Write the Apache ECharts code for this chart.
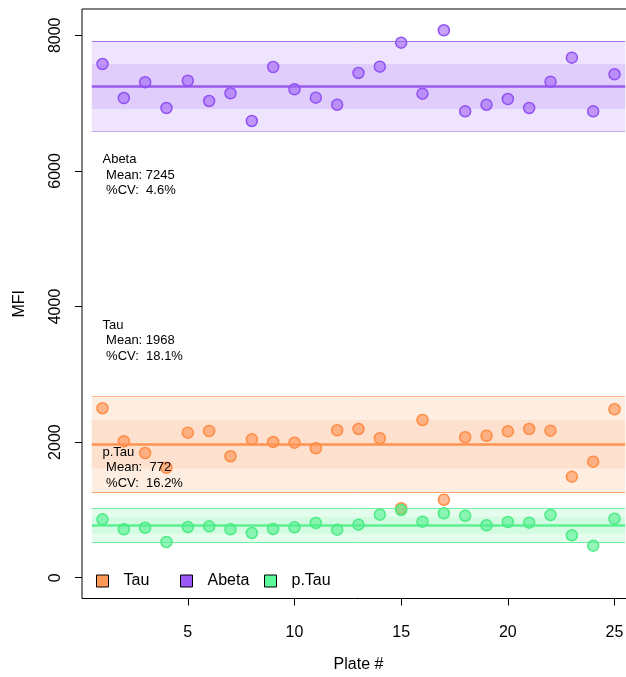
<!DOCTYPE html>
<html><head><meta charset="utf-8">
<script src="https://cdn.jsdelivr.net/npm/echarts@6/dist/echarts.min.js"></script>
<style>html,body{margin:0;padding:0;background:#fff}#c{width:626px;height:677px}</style>
</head><body><div id="c"></div><script>
// ---- data ----
const plates = [1,2,3,4,5,6,7,8,9,10,11,12,13,14,15,16,17,18,19,20,21,22,23,24,25];
const tauValues   = [2499,2012,1839,1622,2139,2164,1791,2041,2001,1991,1909,2174,2193,2056,1024,2326,1150,2071,2094,2159,2193,2168,1490,1711,2484];
const abetaValues = [7577,7075,7307,6928,7330,7031,7145,6736,7532,7204,7080,6976,7444,7537,7891,7139,8074,6879,6976,7060,6928,7316,7670,6879,7425];
const ptauValues  = [861,714,737,527,748,758,714,659,718,743,807,708,782,929,999,826,950,914,773,822,811,925,625,472,870];
const groupNames = ['Tau','Abeta','p.Tau'];
const groupMeans = [1968, 7245, 772];
const groupCV    = [18.1, 4.6, 16.2];
const annotY     = [3496, 5940, 1622];   // data-y of middle annotation line
const xTicks = [5,10,15,20,25];
const yTicks = [0,2000,4000,6000,8000];

// ---- styles ----
const FONT = 'Liberation Sans, Arial, sans-serif';
const styles = [
  {fill:'rgba(255,150,90,0.65)', border:'#FF8C45', legend:'#FF9955', mean:'#FF934F', outer:'#FEEEE2', inner:'#FDE0CD', edgeTop:'#FFB487', edgeBot:'#FFA56C'},
  {fill:'rgba(160,100,245,0.6)', border:'#9152F2', legend:'#9B59F5', mean:'#9A5AEE', outer:'#EFE4FE', inner:'#E0CDFC', edgeTop:'#A373F2', edgeBot:'#C5A6F8'},
  {fill:'rgba(80,240,140,0.6)', border:'#4BEB84', legend:'#5CF89A', mean:'#5BF091', outer:'#E4FDED', inner:'#D2FBE1', edgeTop:'#72F0A2', edgeBot:'#72F0A2'}
];
const valuesByGroup = [tauValues, abetaValues, ptauValues];

const series = [];
groupNames.forEach((g, i) => {
  const m = groupMeans[i], sd = m * groupCV[i] / 100, st = styles[i];
  series.push({
    type: 'line', name: g + ' band', data: [], silent: true, z: 1,
    markArea: { silent: true, data: [
      [{xAxis:0.5, yAxis:m-2*sd, itemStyle:{color:st.outer}}, {xAxis:25.5, yAxis:m+2*sd}],
      [{xAxis:0.5, yAxis:m-sd, itemStyle:{color:st.inner}}, {xAxis:25.5, yAxis:m+sd}]
    ]},
    markLine: { silent: true, symbol: 'none', label:{show:false}, data: [
      [{coord:[0.5,m+2*sd], lineStyle:{color:st.edgeTop, width:1, type:'solid'}}, {coord:[25.5,m+2*sd]}],
      [{coord:[0.5,m-2*sd], lineStyle:{color:st.edgeBot, width:1, type:'solid'}}, {coord:[25.5,m-2*sd]}],
      [{coord:[0.5,m], lineStyle:{color:st.mean, width:2.5, type:'solid'}}, {coord:[25.5,m]}]
    ]}
  });
});
groupNames.forEach((g, i) => {
  const st = styles[i];
  series.push({
    type: 'scatter', name: g, z: 5,
    data: plates.map((p, k) => [p, valuesByGroup[i][k]]),
    symbol: 'circle', symbolSize: 11,
    itemStyle: {color: st.fill, borderColor: st.border, borderWidth: 1.5, opacity: 1}
  });
});

const legendLefts = [96, 180, 264];
const legends = groupNames.map((g, i) => ({
  left: legendLefts[i], top: 573, padding: 0, orient: 'horizontal',
  itemWidth: 12, itemHeight: 12, icon: 'rect',
  selectedMode: false,
  itemStyle: {borderColor:'#000', borderWidth:1},
  textStyle: {fontSize: 16, color:'#000', fontFamily: FONT, padding:[0,0,0,10]},
  data: [{name: g, itemStyle: {color: styles[i].legend, borderColor:'#000', borderWidth:1}}]
}));

const chart = echarts.init(document.getElementById('c'), null, {renderer:'canvas'});
chart.setOption({
  animation: false,
  backgroundColor: '#fff',
  textStyle: {fontFamily: FONT},
  grid: {left: 82, top: 9, right: -9, bottom: 78.5, show: true, borderColor: '#000', borderWidth: 1,
         backgroundColor: 'transparent', containLabel: false, outerBoundsMode: 'none'},
  legend: legends,
  xAxis: {
    type: 'value', min: 0.04, max: 25.96,
    splitLine: {show:false}, axisLine: {show:false, onZero: false},
    axisTick: {show:true, length:7, customValues: xTicks, lineStyle:{color:'#000', width:1}},
    axisLabel: {customValues: xTicks, margin: 26, fontSize: 16, color:'#000', fontFamily: FONT},
    name: 'Plate #', nameLocation: 'middle', nameGap: 58,
    nameTextStyle: {fontSize: 16, color: '#000', fontFamily: FONT}
  },
  yAxis: {
    type: 'value', min: -307, max: 8388,
    splitLine: {show:false}, axisLine: {show:false, onZero: false},
    axisTick: {show:true, length:7, customValues: yTicks, lineStyle:{color:'#000', width:1}},
    axisLabel: {customValues: yTicks, rotate: 90, margin: 18, fontSize: 16, color:'#000', fontFamily: FONT,
                formatter: v => String(v)},
    name: 'MFI', nameLocation: 'middle', nameGap: 54,
    nameTextStyle: {fontSize: 16, color: '#000', fontFamily: FONT}
  },
  series: series
});

// annotations anchored to data coordinates
const graphics = groupNames.map((g, i) => {
  const p = chart.convertToPixel({gridIndex: 0}, [1, annotY[i]]);
  const meanTxt = (groupMeans[i] < 1000 ? ' Mean:  ' : ' Mean: ') + groupMeans[i];
  const cvTxt = ' %CV:  ' + groupCV[i].toFixed(1) + '%';
  return {
    type: 'text', x: p[0], y: p[1], z: 10,
    style: {text: g + '\n' + meanTxt + '\n' + cvTxt, fill: '#000', font: '13px ' + FONT,
            lineHeight: 15.5, textAlign: 'left', textVerticalAlign: 'middle', verticalAlign: 'middle'}
  };
});
chart.setOption({graphic: graphics});
</script></body></html>
